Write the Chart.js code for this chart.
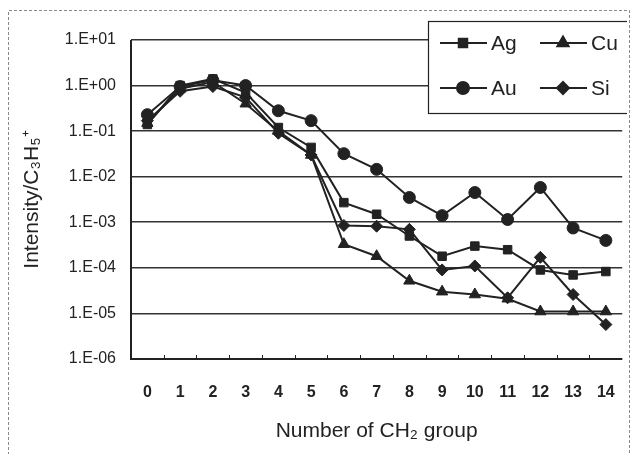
<!DOCTYPE html>
<html>
<head>
<meta charset="utf-8">
<script src="https://cdn.jsdelivr.net/npm/chart.js@4"></script>
<style>
  body { margin: 0; background: #fff; }
  #wrap { width: 631px; height: 454px; }
</style>
</head>
<body>
<div id="wrap"><canvas id="grafica" width="631" height="454"></canvas></div>
<script>
const categorias = ['0', '1', '2', '3', '4', '5', '6', '7', '8', '9', '10', '11', '12', '13', '14'];
const ag = [0.14, 1.0, 1.4, 0.7, 0.12, 0.044, 0.0027, 0.0015, 0.0005, 0.00018, 0.0003, 0.00025, 0.00009, 0.00007, 0.000083];
const au = [0.23, 0.95, 1.3, 1.0, 0.28, 0.17, 0.032, 0.0145, 0.0035, 0.0014, 0.0045, 0.00115, 0.0058, 0.00075, 0.0004];
const cu = [0.15, 0.85, 1.2, 0.4, 0.1, 0.03, 0.00033, 0.00018, 0.000052, 0.00003, 0.000026, 0.000021, 0.000011, 0.000011, 0.000011];
const si = [0.17, 0.75, 0.95, 0.55, 0.09, 0.03, 0.00085, 0.00082, 0.0007, 0.00009, 0.00011, 0.000022, 0.00017, 0.000026, 0.0000057];
const ticksY = [1e1, 1e0, 1e-1, 1e-2, 1e-3, 1e-4, 1e-5, 1e-6];
const etiquetasY = ['1.E+01', '1.E+00', '1.E-01', '1.E-02', '1.E-03', '1.E-04', '1.E-05', '1.E-06'];

const tinta = '#222';
const fuente = "'Liberation Sans', Arial, sans-serif";

function serie(label, data, estilo, radio) {
    return {
        label: label,
        data: data,
        borderColor: tinta,
        backgroundColor: tinta,
        borderWidth: 2,
        pointStyle: estilo,
        pointRadius: radio,
        pointBorderWidth: 1,
        tension: 0
    };
}

// borde punteado exterior, ticks del eje x y leyenda dentro del grafico
const extras = {
    id: 'extras',
    beforeDraw(chart) {
        const ctx = chart.ctx;
        ctx.save();
        ctx.strokeStyle = '#888';
        ctx.lineWidth = 1;
        ctx.setLineDash([3, 2]);
        ctx.beginPath();
        ctx.moveTo(8.5, 460);
        ctx.lineTo(8.5, 10.5);
        ctx.lineTo(629.5, 10.5);
        ctx.lineTo(629.5, 460);
        ctx.stroke();
        ctx.restore();
    },
    afterDatasetsDraw(chart) {
        const ctx = chart.ctx;
        const area = chart.chartArea;
        ctx.save();
        // marco del area
        ctx.strokeStyle = tinta;
        ctx.lineWidth = 2;
        ctx.beginPath();
        ctx.moveTo(area.left, area.top);
        ctx.lineTo(area.left, area.bottom);
        ctx.lineTo(area.right, area.bottom);
        ctx.stroke();
        // ticks pequeños hacia arriba
        ctx.lineWidth = 1;
        const paso = (area.right - area.left) / categorias.length;
        for (let i = 1; i < categorias.length; i++) {
            const x = Math.round(area.left + i * paso) + 0.5;
            ctx.beginPath();
            ctx.moveTo(x, area.bottom);
            ctx.lineTo(x, area.bottom - 4);
            ctx.stroke();
        }
        // leyenda
        const caja = { x: 428, y: 21, w: 199, h: 92 };
        ctx.beginPath();
        ctx.rect(0, 0, 627, 454);
        ctx.clip();
        ctx.fillStyle = '#fff';
        ctx.fillRect(caja.x, caja.y, caja.w + 10, caja.h);
        ctx.strokeStyle = tinta;
        ctx.lineWidth = 1.2;
        ctx.strokeRect(caja.x + 0.5, caja.y + 0.5, caja.w + 10, caja.h);
        const posiciones = [[440, 43], [540, 43], [440, 88], [540, 88]];
        const orden = [0, 2, 1, 3];
        orden.forEach((idx, k) => {
            const ds = chart.data.datasets[idx];
            const [x, y] = posiciones[k];
            ctx.strokeStyle = tinta;
            ctx.lineWidth = 2;
            ctx.beginPath();
            ctx.moveTo(x, y);
            ctx.lineTo(x + 47, y);
            ctx.stroke();
            ctx.fillStyle = tinta;
            Chart.helpers.drawPoint(ctx, {
                pointStyle: ds.pointStyle,
                radius: ds.pointRadius,
                borderWidth: 1,
                rotation: 0
            }, x + 23, y);
            ctx.fillStyle = tinta;
            ctx.font = '21px ' + fuente;
            ctx.textBaseline = 'middle';
            ctx.textAlign = 'left';
            ctx.fillText(ds.label, x + 51, y + 1);
        });
        ctx.restore();
    }
};

new Chart(document.getElementById('grafica'), {
    type: 'line',
    data: {
        labels: categorias,
        datasets: [
            serie('Ag', ag, 'rect', 6),
            serie('Au', au, 'circle', 6),
            serie('Cu', cu, 'triangle', 6.5),
            serie('Si', si, 'rectRot', 6)
        ]
    },
    options: {
        responsive: false,
        animation: false,
        layout: { padding: { top: 40, right: 4, left: 10, bottom: 0 } },
        plugins: {
            legend: { display: false },
            tooltip: { enabled: false }
        },
        scales: {
            x: {
                offset: true,
                grid: { display: false },
                border: { display: false },
                ticks: {
                    color: tinta,
                    font: { family: fuente, size: 16, weight: 'bold' },
                    padding: 16,
                    maxRotation: 0,
                    autoSkip: false
                },
                title: {
                    display: true,
                    text: 'Number of CH₂ group',
                    color: tinta,
                    font: { family: fuente, size: 21 },
                    padding: { top: 10, bottom: 10 }
                },
                afterFit(axis) { axis.height = 95; }
            },
            y: {
                type: 'logarithmic',
                min: 1e-6,
                max: 10,
                grid: {
                    color: '#333',
                    lineWidth: 1.6,
                    drawTicks: false
                },
                border: { display: false },
                afterBuildTicks(axis) {
                    axis.ticks = ticksY.map(v => ({ value: v }));
                },
                ticks: {
                    color: tinta,
                    font: { family: fuente, size: 16 },
                    padding: 15,
                    callback: function(value) {
                        const i = ticksY.findIndex(t => Math.abs(Math.log10(t) - Math.log10(value)) < 1e-6);
                        return i >= 0 ? etiquetasY[i] : '';
                    }
                },
                title: {
                    display: true,
                    text: 'Intensity/C₃H₅⁺',
                    color: tinta,
                    font: { family: fuente, size: 21 },
                    padding: { top: 10, bottom: 0 }
                },
                afterFit(axis) { axis.width = 121; }
            }
        }
    },
    plugins: [extras]
});
</script>
</body>
</html>
